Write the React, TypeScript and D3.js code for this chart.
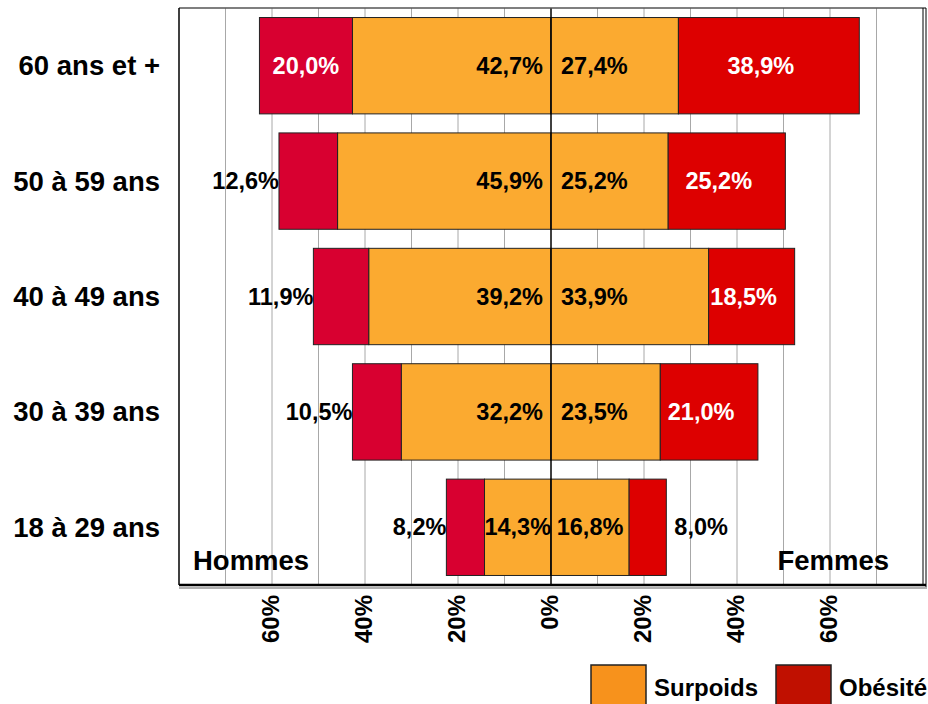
import React from "react";
import * as d3 from "d3";

const categories = ["60 ans et +", "50 à 59 ans", "40 à 49 ans", "30 à 39 ans", "18 à 29 ans"];
const hommesSurpoids = [42.7, 45.9, 39.2, 32.2, 14.3];
const hommesObesite = [20.0, 12.6, 11.9, 10.5, 8.2];
const femmesSurpoids = [27.4, 25.2, 33.9, 23.5, 16.8];
const femmesObesite = [38.9, 25.2, 18.5, 21.0, 8.0];
const tickValues = [-60, -40, -20, 0, 20, 40, 60];
const gridValues = [-70, -60, -50, -40, -30, -20, -10, 10, 20, 30, 40, 50, 60, 70];
const legendItems = ["Surpoids", "Obésité"];

const FONT = "'Liberation Sans', Arial, sans-serif";
const COL_SURPOIDS = "#FBAA30";
const COL_OBES_H = "#D80030";
const COL_OBES_F = "#DD0000";
const LEG_COLORS = ["#F7921C", "#C01000"];
const LBL = 23.5;

const fmt = (v: number) => v.toFixed(1).replace(".", ",") + "%";

const App: React.FC = () => {
  const width = 928;
  const height = 704;
  const plot = { left: 179, right: 923, top: 8, bottom: 585 };

  const x = d3.scaleLinear().domain([-80, 80]).range([plot.left, plot.right]);
  const y = d3
    .scaleBand<string>()
    .domain(categories)
    .range([plot.top, plot.bottom])
    .paddingInner(0.165)
    .paddingOuter(0.0825);

  const x0 = x(0);
  const bw = y.bandwidth();

  return (
    <svg
      width={width}
      height={height}
      style={{ position: "absolute", left: 0, top: 0, background: "#fff", fontFamily: FONT }}
    >
      {/* grid */}
      {gridValues.map(g => (
        <line key={g} x1={x(g)} x2={x(g)} y1={plot.top} y2={plot.bottom} stroke="#a8a8a8" strokeWidth={1} />
      ))}

      {/* bars */}
      {categories.map((c, i) => {
        const yc = (y(c) ?? 0) + bw / 2;
        const hs = hommesSurpoids[i];
        const ho = hommesObesite[i];
        const fs = femmesSurpoids[i];
        const fo = femmesObesite[i];
        const hsW = x0 - x(-hs);
        const fsW = x(fs) - x0;
        return (
          <g key={c}>
            <rect x={x(-hs)} y={y(c)} width={hsW} height={bw} fill={COL_SURPOIDS} stroke="#222" strokeWidth={1} />
            <rect x={x(-(hs + ho))} y={y(c)} width={x(-hs) - x(-(hs + ho))} height={bw} fill={COL_OBES_H} stroke="#222" strokeWidth={1} />
            <rect x={x0} y={y(c)} width={fsW} height={bw} fill={COL_SURPOIDS} stroke="#222" strokeWidth={1} />
            <rect x={x(fs)} y={y(c)} width={x(fs + fo) - x(fs)} height={bw} fill={COL_OBES_F} stroke="#222" strokeWidth={1} />

            {/* surpoids labels */}
            {hsW < 80 ? (
              <text x={(x(-hs) + x0) / 2} y={yc} textAnchor="middle" dominantBaseline="central" fontSize={LBL} fontWeight="bold" fill="#000">{fmt(hs)}</text>
            ) : (
              <text x={x0 - 8} y={yc} textAnchor="end" dominantBaseline="central" fontSize={LBL} fontWeight="bold" fill="#000">{fmt(hs)}</text>
            )}
            {fsW < 80 ? (
              <text x={(x(fs) + x0) / 2} y={yc} textAnchor="middle" dominantBaseline="central" fontSize={LBL} fontWeight="bold" fill="#000">{fmt(fs)}</text>
            ) : (
              <text x={x0 + 10} y={yc} textAnchor="start" dominantBaseline="central" fontSize={LBL} fontWeight="bold" fill="#000">{fmt(fs)}</text>
            )}

            {/* obesite labels */}
            {ho >= 15 ? (
              <text x={(x(-hs) + x(-(hs + ho))) / 2} y={yc} textAnchor="middle" dominantBaseline="central" fontSize={LBL} fontWeight="bold" fill="#fff">{fmt(ho)}</text>
            ) : (
              <text x={x(-(hs + ho))} y={yc} textAnchor="end" dominantBaseline="central" fontSize={LBL} fontWeight="bold" fill="#000">{fmt(ho)}</text>
            )}
            {fo >= 15 ? (
              <text x={(x(fs) + x(fs + fo)) / 2 - 8} y={yc} textAnchor="middle" dominantBaseline="central" fontSize={LBL} fontWeight="bold" fill="#fff">{fmt(fo)}</text>
            ) : (
              <text x={x(fs + fo) + 8} y={yc} textAnchor="start" dominantBaseline="central" fontSize={LBL} fontWeight="bold" fill="#000">{fmt(fo)}</text>
            )}

            {/* category */}
            <text x={160} y={yc} textAnchor="end" dominantBaseline="central" fontSize={27.5} fontWeight="bold" fill="#000">{c}</text>
          </g>
        );
      })}

      {/* center line */}
      <line x1={x0} x2={x0} y1={plot.top} y2={plot.bottom} stroke="#000" strokeWidth={1.5} />

      {/* frame */}
      <line x1={plot.left} x2={plot.right + 3} y1={plot.top} y2={plot.top} stroke="#555" strokeWidth={1.5} />
      <line x1={plot.left} x2={plot.left} y1={plot.top} y2={plot.bottom} stroke="#000" strokeWidth={1.5} />
      <line x1={plot.right} x2={plot.right} y1={plot.top} y2={plot.bottom} stroke="#000" strokeWidth={1} />
      <line x1={plot.right + 3} x2={plot.right + 3} y1={plot.top} y2={plot.bottom + 2} stroke="#000" strokeWidth={1} />
      <line x1={plot.left} x2={plot.right + 4} y1={plot.bottom + 3} y2={plot.bottom + 3} stroke="#b0b0b0" strokeWidth={2} />
      <line x1={plot.left} x2={plot.right + 3} y1={plot.bottom} y2={plot.bottom} stroke="#000" strokeWidth={2.5} />

      {/* sides */}
      <text x={x(-80) + 14} y={570} fontSize={27.5} fontWeight="bold" fill="#000">Hommes</text>
      <text x={x(80) - 34} y={570} textAnchor="end" fontSize={27.5} fontWeight="bold" fill="#000">Femmes</text>

      {/* x tick labels */}
      {tickValues.map(t => (
        <text
          key={t}
          transform={`translate(${x(t) - 2},${plot.bottom + 10}) rotate(-90)`}
          textAnchor="end"
          dominantBaseline="central"
          fontSize={24}
          fontWeight="bold"
          fill="#000"
        >
          {Math.abs(t)}%
        </text>
      ))}

      {/* legend */}
      {legendItems.map((l, i) => {
        const lx = 591 + i * 185;
        return (
          <g key={l}>
            <rect x={lx} y={665} width={55} height={56} fill={LEG_COLORS[i]} stroke="#222" strokeWidth={1.5} />
            <text x={lx + 63} y={696} fontSize={24} fontWeight="bold" fill="#000">{l}</text>
          </g>
        );
      })}
    </svg>
  );
};

export default App;
